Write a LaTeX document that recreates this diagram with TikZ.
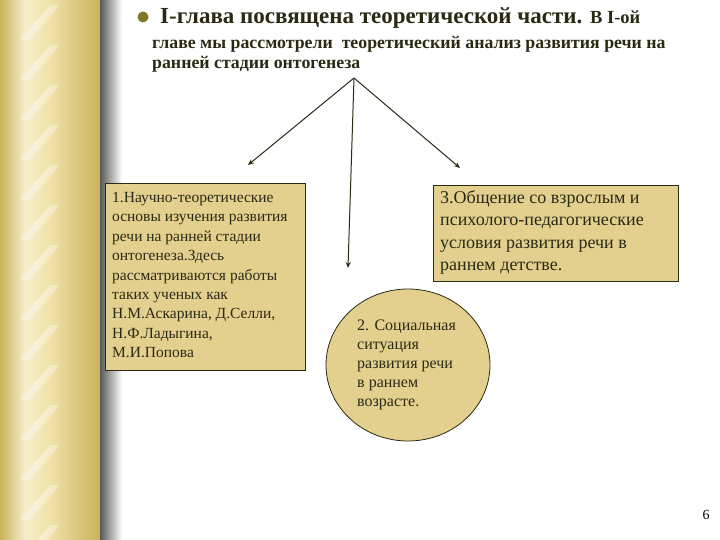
\documentclass[tikz,border=0pt]{standalone}
\usepackage{fontspec}
\setmainfont{Liberation Serif}
\usetikzlibrary{shapes.geometric,arrows.meta}
\definecolor{khaki}{HTML}{E3CF8E}
\definecolor{gold1}{HTML}{C9B25A}
\definecolor{gold2}{HTML}{F0E2A8}
\definecolor{dk}{HTML}{2A2A14}
\tikzset{x=1pt,y=-1pt,
 boxfill/.style={draw=dk,fill=khaki,line width=0.8pt},
 boxtext/.style={anchor=north west,align=left,inner sep=0pt,text=dk},
 conn/.style={draw=dk,line width=1pt,-{Stealth[length=6pt,width=5pt]}}}
\begin{document}
\begin{tikzpicture}
\useasboundingbox (0,0) rectangle (720,540);
\fill[white] (0,0) rectangle (720,540);
% border
\shade[left color=gold1,right color=gold2,middle color=gold2!60!white] (0,0) rectangle (50,540);
\shade[left color=gold2,right color=gold1] (50,0) rectangle (100,540);
\foreach \y in {0,40,...,560}{\fill[white,opacity=0.35] (20,\y) -- (30,\y) -- (60,\y-35) -- (50,\y-35) -- cycle;}
\shade[left color=gray!70!black,right color=white] (100,0) rectangle (122,540);
% title
\fill[olive!80!yellow!70!black] (143,17) circle (5.5);
\node[anchor=west,font=\bfseries\fontsize{23}{24}\selectfont,text=dk,inner sep=0pt] (t1) at (160,18) {I-глава посвящена теоретической части. {\fontsize{18.5}{20}\selectfont В I-ой}};
\node[anchor=north west,align=left,font=\bfseries\fontsize{17.8}{20}\selectfont,text=dk,inner sep=0pt] (t2) at (152,36) {главе мы рассмотрели\ \ теоретический анализ развития речи на\\ранней стадии онтогенеза};
\coordinate (ap) at (354,78);
\coordinate (e1) at (248,165);
\coordinate (e2) at (348,268);
\coordinate (e3) at (460,168);
\draw[conn] (ap) -- (e1);
\draw[conn] (ap) -- (e2);
\draw[conn] (ap) -- (e3);
\draw[boxfill] (105,183) rectangle (305,370);
\node[boxtext,font=\fontsize{15.5}{19.4}\selectfont] (b1) at (112,192) {1.Научно-теоретические\\основы изучения развития\\речи на ранней стадии\\онтогенеза.Здесь\\рассматриваются работы\\таких ученых как\\Н.М.Аскарина, Д.Селли,\\Н.Ф.Ладыгина,\\М.И.Попова};
\draw[boxfill] (433,185) rectangle (678,281);
\node[boxtext,font=\fontsize{18}{22.5}\selectfont] (b3) at (440,190) {3.Общение со взрослым и\\психолого-педагогические\\условия развития речи в\\раннем детстве.};
\node[ellipse,boxfill,minimum width=164pt,minimum height=152pt,inner sep=0pt] (b2) at (408,365) {};
\node[boxtext,font=\fontsize{16}{19}\selectfont] (b2t) at (357,320) {2. Социальная\\ситуация\\развития речи\\в раннем\\возрасте.};
\node[font=\fontsize{14}{16}\selectfont] (pg) at (706,515) {6};
\end{tikzpicture}
\end{document}
